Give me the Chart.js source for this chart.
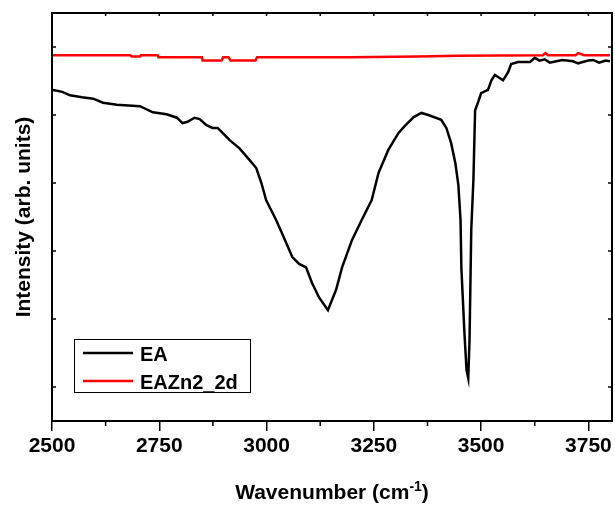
<!DOCTYPE html>
<html>
<head>
<meta charset="utf-8">
<script src="https://cdn.jsdelivr.net/npm/chart.js@4"></script>
<style>
  html, body { margin: 0; padding: 0; background: #fff; }
  #wrap { width: 615px; height: 506px; }
</style>
</head>
<body>
<div id="wrap"><canvas id="irChart" width="615" height="506"></canvas></div>
<script>
// wavenumbers (cm-1) and intensities
const eaX = [2500, 2524, 2542, 2570, 2596, 2619, 2651, 2705, 2735, 2767, 2791, 2804, 2816, 2832, 2844,
    2860, 2874, 2886, 2897, 2914, 2937, 2960, 2976, 2988, 2999, 3022, 3036, 3060, 3076, 3092, 3106,
    3122, 3143, 3162, 3176, 3199, 3222, 3245, 3261, 3284, 3308, 3324, 3343, 3361, 3377, 3407, 3419,
    3430, 3440, 3447, 3452, 3454, 3461, 3466, 3470, 3473, 3477, 3482, 3486, 3493, 3500, 3516, 3524,
    3532, 3544, 3551, 3563, 3570, 3586, 3614, 3625, 3636, 3648, 3660, 3675, 3690, 3714, 3726, 3737,
    3750, 3761, 3775, 3790, 3800];
const eaY = [4.37, 4.34, 4.29, 4.26, 4.24, 4.18, 4.15, 4.13, 4.04, 4.01, 3.96, 3.88, 3.90, 3.96, 3.94,
    3.85, 3.81, 3.81, 3.74, 3.63, 3.51, 3.34, 3.22, 3.00, 2.75, 2.46, 2.26, 1.91, 1.81, 1.76, 1.53,
    1.32, 1.13, 1.43, 1.76, 2.16, 2.46, 2.75, 3.15, 3.49, 3.74, 3.85, 3.97, 4.03, 4.00, 3.93, 3.81,
    3.59, 3.29, 2.97, 2.46, 1.75, 0.81, 0.25, 0.13, 0.69, 2.31, 3.04, 4.07, 4.19, 4.32, 4.37, 4.51,
    4.59, 4.54, 4.51, 4.63, 4.75, 4.78, 4.78, 4.84, 4.80, 4.82, 4.77, 4.79, 4.81, 4.79, 4.76, 4.78,
    4.80, 4.81, 4.77, 4.80, 4.79];

const znX = [2500, 2682, 2686, 2705, 2707, 2746, 2748, 2849, 2851, 2895, 2899, 2911, 2916, 2974, 2978,
    3196, 3354, 3447, 3644, 3650, 3656, 3720, 3726, 3740, 3800];
const znY = [4.88, 4.88, 4.86, 4.86, 4.88, 4.88, 4.85, 4.85, 4.80, 4.80, 4.85, 4.85, 4.80, 4.80, 4.85,
    4.85, 4.86, 4.87, 4.88, 4.91, 4.88, 4.88, 4.91, 4.88, 4.88];

const xTicks = [2500, 2750, 3000, 3250, 3500, 3750];
const xMinorTicks = [2625, 2875, 3125, 3375, 3625];
const yTicks = [0, 1, 2, 3, 4, 5];

const seriesNames = ['EA', 'EAZn2_2d'];
const seriesColors = ['#000000', '#ff0000'];

function toPoints(xs, ys) {
    return xs.map((x, i) => ({ x: x, y: ys[i] }));
}

const FONT = "'Liberation Sans', Arial, sans-serif";

// frame, extra ticks, axis titles and legend
const decorations = {
    id: 'decorations',
    afterDraw(chart) {
        const ctx = chart.ctx;
        const a = chart.chartArea;
        const xs = chart.scales.x;
        const ys = chart.scales.y;
        ctx.save();
        ctx.strokeStyle = '#000';
        ctx.lineWidth = 2;
        ctx.strokeRect(a.left, a.top, a.right - a.left, a.bottom - a.top);

        ctx.lineWidth = 1.5;
        ctx.beginPath();
        xMinorTicks.forEach(v => {
            const px = xs.getPixelForValue(v);
            ctx.moveTo(px, a.bottom);
            ctx.lineTo(px, a.bottom + 5);
        });
        xTicks.concat(xMinorTicks).forEach(v => {
            const px = xs.getPixelForValue(v);
            ctx.moveTo(px, a.top);
            ctx.lineTo(px, a.top + 3);
        });
        yTicks.forEach(v => {
            const py = ys.getPixelForValue(v);
            ctx.moveTo(a.left, py);
            ctx.lineTo(a.left + 4, py);
            ctx.moveTo(a.right, py);
            ctx.lineTo(a.right - 4, py);
        });
        ctx.stroke();

        // axis titles
        ctx.fillStyle = '#000';
        ctx.font = 'bold 21px ' + FONT;
        const main = 'Wavenumber (cm';
        const sup = '-1';
        const close = ')';
        const wMain = ctx.measureText(main).width;
        const wClose = ctx.measureText(close).width;
        ctx.font = 'bold 14px ' + FONT;
        const wSup = ctx.measureText(sup).width;
        const total = wMain + wSup + wClose;
        let tx = (a.left + a.right) / 2 - total / 2;
        const ty = 499;
        ctx.textBaseline = 'alphabetic';
        ctx.textAlign = 'left';
        ctx.font = 'bold 21px ' + FONT;
        ctx.fillText(main, tx, ty);
        tx += wMain;
        ctx.font = 'bold 14px ' + FONT;
        ctx.fillText(sup, tx, ty - 8);
        tx += wSup;
        ctx.font = 'bold 21px ' + FONT;
        ctx.fillText(close, tx, ty);

        ctx.save();
        ctx.translate(24, (a.top + a.bottom) / 2);
        ctx.rotate(-Math.PI / 2);
        ctx.textAlign = 'center';
        ctx.textBaseline = 'middle';
        ctx.font = 'bold 21px ' + FONT;
        ctx.fillText('Intensity (arb. units)', 0, 0);
        ctx.restore();

        // legend
        ctx.lineWidth = 1;
        ctx.strokeRect(74.5, 339.5, 176, 53);
        ctx.font = 'bold 20px ' + FONT;
        ctx.textAlign = 'left';
        ctx.textBaseline = 'alphabetic';
        chart.data.datasets.forEach((ds, i) => {
            const ly = 353 + i * 28;
            ctx.strokeStyle = ds.borderColor;
            ctx.lineWidth = 2.5;
            ctx.beginPath();
            ctx.moveTo(83, ly);
            ctx.lineTo(133, ly);
            ctx.stroke();
            ctx.fillStyle = '#000';
            ctx.fillText(ds.label, 140, ly + 8);
        });
        ctx.restore();
    }
};

new Chart(document.getElementById('irChart'), {
    type: 'line',
    data: {
        datasets: [
            {
                label: seriesNames[0],
                data: toPoints(eaX, eaY),
                borderColor: seriesColors[0],
                borderWidth: 2.5,
                pointRadius: 0,
                tension: 0,
                order: 1
            },
            {
                label: seriesNames[1],
                data: toPoints(znX, znY),
                borderColor: seriesColors[1],
                borderWidth: 2.5,
                pointRadius: 0,
                tension: 0,
                order: 0
            }
        ]
    },
    options: {
        responsive: false,
        animation: false,
        layout: { padding: { left: 52, right: 3, top: 13, bottom: 0 } },
        plugins: {
            legend: { display: false },
            tooltip: { enabled: false }
        },
        scales: {
            x: {
                type: 'linear',
                min: 2500,
                max: 3805,
                afterBuildTicks: scale => { scale.ticks = xTicks.map(v => ({ value: v })); },
                afterFit: scale => { scale.height = 85; },
                border: { display: false },
                grid: {
                    drawOnChartArea: false,
                    drawTicks: true,
                    tickLength: 10,
                    color: '#000',
                    lineWidth: 1.5
                },
                ticks: {
                    color: '#000',
                    padding: 3,
                    maxRotation: 0,
                    autoSkip: false,
                    font: { family: FONT, size: 21, weight: 'bold' },
                    callback: v => String(v)
                }
            },
            y: {
                display: false,
                min: -0.5,
                max: 5.5
            }
        }
    },
    plugins: [decorations]
});
</script>
</body>
</html>
